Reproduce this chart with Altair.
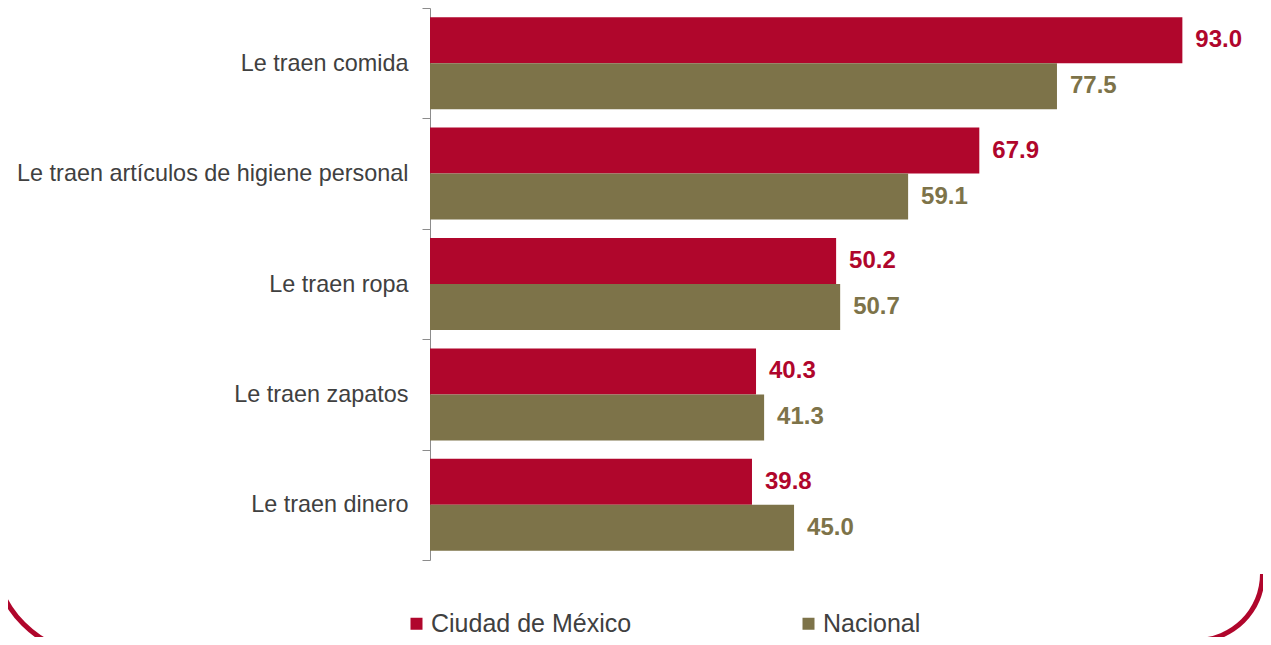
import altair as alt
import pandas as pd

categorias = [
    "Le traen comida",
    "Le traen artículos de higiene personal",
    "Le traen ropa",
    "Le traen zapatos",
    "Le traen dinero",
]
cdmx = [93.0, 67.9, 50.2, 40.3, 39.8]
nacional = [77.5, 59.1, 50.7, 41.3, 45.0]
series = ["Ciudad de México", "Nacional"]
colores = ["#B0062C", "#7D7349"]

rows = []
for c, a, b in zip(categorias, cdmx, nacional):
    rows.append({"cat": c, "serie": series[0], "valor": a})
    rows.append({"cat": c, "serie": series[1], "valor": b})
df = pd.DataFrame(rows)

FONT = "Liberation Sans"

y = alt.Y(
    "cat:N",
    sort=categorias,
    scale=alt.Scale(paddingInner=0, paddingOuter=0),
    axis=alt.Axis(
        title=None,
        tickBand="extent",
        tickSize=8,
        tickColor="#8c8c8c",
        domainColor="#8c8c8c",
        labelPadding=14,
        labelFont=FONT,
        labelFontSize=23.4,
        labelColor="#404040",
        labelLimit=600,
    ),
)
yoff = alt.YOffset("serie:N", sort=series, scale=alt.Scale(paddingInner=0, paddingOuter=0.2))
x = alt.X("valor:Q", scale=alt.Scale(domain=[0, 100]), axis=None)
color_scale = alt.Scale(domain=series, range=colores)

bars = alt.Chart(df).mark_bar().encode(
    x=x,
    y=y,
    yOffset=yoff,
    color=alt.Color(
        "serie:N",
        scale=color_scale,
        sort=series,
        legend=alt.Legend(
            title=None,
            orient="none",
            legendX=-26,
            legendY=603,
            direction="horizontal",
            symbolType="square",
            symbolSize=144,
            symbolStrokeWidth=0,
            labelFont=FONT,
            labelFontSize=25,
            labelColor="#404040",
            labelOffset=2,
            labelLimit=500,
            columnPadding=164,
        ),
    ),
)

text = alt.Chart(df).mark_text(
    align="left", baseline="middle", dx=13, font=FONT, fontSize=24, fontWeight="bold"
).encode(
    x=x,
    y=y,
    yOffset=yoff,
    text=alt.Text("valor:Q", format=".1f"),
    color=alt.Color("serie:N", scale=color_scale, legend=None),
)

deco = pd.DataFrame({"k": [0]})
arc_left = alt.Chart(deco).mark_arc(color="#B0062C").encode(
    x=alt.value(-333),
    y=alt.value(542.5),
    theta=alt.value(3.14159),
    theta2=alt.value(4.71239),
    radius=alt.value(101.5),
    radius2=alt.value(106.5),
)
arc_right = alt.Chart(deco).mark_arc(color="#B0062C").encode(
    x=alt.value(766),
    y=alt.value(566),
    theta=alt.value(1.5708),
    theta2=alt.value(3.14159),
    radius=alt.value(64),
    radius2=alt.value(69),
)

chart = alt.layer(bars, text, arc_left, arc_right).properties(
    width=809,
    height=552,
    autosize=alt.AutoSizeParams(type="none"),
    padding={"left": 422, "top": 0, "right": 24, "bottom": 77},
).configure_view(stroke=None)

chart.save("out.html", embed_options={"renderer": "svg", "actions": False})
